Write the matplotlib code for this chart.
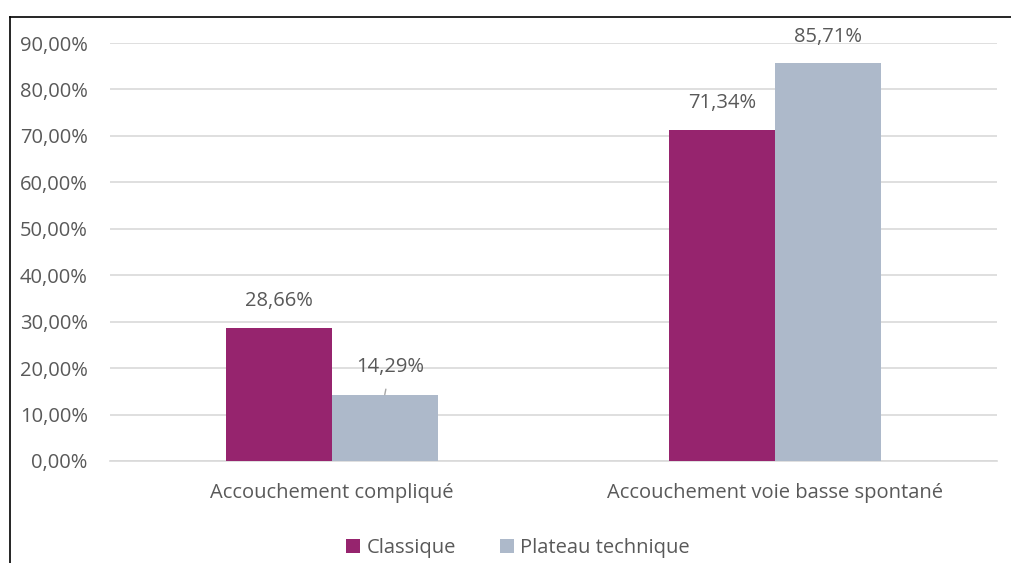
import numpy as np
import matplotlib.pyplot as plt
from matplotlib.lines import Line2D
from matplotlib.ticker import FuncFormatter

# data
categories = ["Accouchement compliqué", "Accouchement voie basse spontané"]
series_names = ["Classique", "Plateau technique"]
classique = [28.66, 71.34]
plateau = [14.29, 85.71]

colors = ["#96246E", "#ADB9CA"]
text_color = "#595959"

plt.rcParams["font.family"] = ["Open Sans", "DejaVu Sans"]

fig = plt.figure(figsize=(10.11, 5.63), dpi=100)
ax = fig.add_axes([0.1088, 0.1812, 0.8774, 0.7424])

x = np.arange(len(categories))
width = 0.239

bars1 = ax.bar(x - width / 2, classique, width, color=colors[0], label=series_names[0], zorder=3)
bars2 = ax.bar(x + width / 2, plateau, width, color=colors[1], label=series_names[1], zorder=3)

ax.set_xlim(-0.5, 1.5)
ax.set_ylim(0, 90)
ax.set_yticks(np.arange(0, 91, 10))
ax.yaxis.set_major_formatter(FuncFormatter(lambda v, p: f"{v:.2f}%".replace(".", ",")))
ax.set_xticks(x)
ax.set_xticklabels(categories)

ax.grid(axis="y", color="#D9D9D9", linewidth=1.2, zorder=0)
for side in ["top", "right", "left"]:
    ax.spines[side].set_visible(False)
ax.spines["bottom"].set_color("#D9D9D9")
ax.spines["bottom"].set_linewidth(1.2)
ax.tick_params(axis="both", length=0, colors=text_color, labelsize=14.5)
ax.tick_params(axis="y", pad=16)
ax.tick_params(axis="x", pad=16)


def fmt(v):
    return f"{v:.2f}%".replace(".", ",")


# value labels
for bars, vals in [(bars1, classique), (bars2, plateau)]:
    for b, v in zip(bars, vals):
        cx = b.get_x() + b.get_width() / 2
        if v == plateau[0]:
            ax.annotate(fmt(v), xy=(cx, v), xytext=(4, 20), textcoords="offset points",
                        ha="center", va="center", fontsize=14.5, color=text_color,
                        arrowprops=dict(arrowstyle="-", color="#A6A6A6", lw=1,
                                        shrinkA=7, shrinkB=0))
        else:
            ax.annotate(fmt(v), xy=(cx, v), xytext=(0, 19), textcoords="offset points",
                        ha="center", va="center", fontsize=14.5, color=text_color)

ax.legend(loc="upper center", bbox_to_anchor=(0.46, -0.14), ncol=2, frameon=False,
          fontsize=14.5, labelcolor=text_color, handlelength=0.7, handleheight=0.7,
          handletextpad=0.3, columnspacing=2.2)

# chart border (left and top)
fig.add_artist(Line2D([0.0094, 0.0094], [0, 0.9698], color="black", lw=1.2))
fig.add_artist(Line2D([0.0094, 1.0], [0.9698, 0.9698], color="black", lw=1.2))

fig.savefig("out.png", dpi=100)
